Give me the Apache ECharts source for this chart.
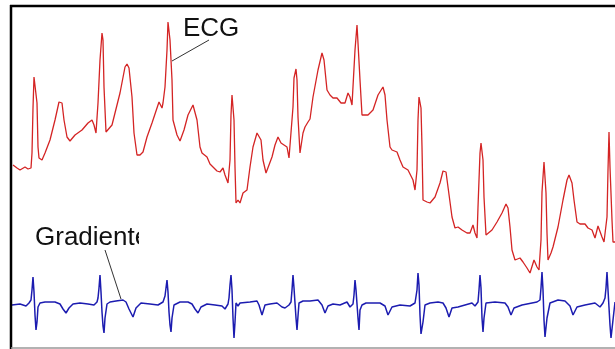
<!DOCTYPE html>
<html>
<head>
<meta charset="utf-8">
<script src="https://cdn.jsdelivr.net/npm/echarts@6/dist/echarts.min.js"></script>
<style>
  html, body { margin: 0; padding: 0; background: #fff; }
  #chart { width: 615px; height: 349px; }
</style>
</head>
<body>
<div id="chart"></div>
<script>
// ECG trace: [sample, amplitude]
const ecg = [
  [13,184],[17,181],[20,179],[25,182],[28,180],[31,181],[32,196],[33,241],[34,272],[36,272],[37,246],[38,202],
  [39,191],[42,189],[45,196],[50,209],[55,229],[59,247],[62,246],[64,229],[67,212],[70,208],[75,214],[82,219],
  [88,226],[92,229],[94,224],[96,216],[97,216],[98,246],[100,289],[102,316],[103,309],[104,262],[106,217],[108,219],
  [112,224],[115,236],[120,256],[125,282],[127,285],[129,281],[132,252],[134,216],[137,194],[140,194],[143,197],
  [147,212],[152,226],[157,241],[159,247],[162,241],[163,246],[165,262],[167,299],[168,327],[170,309],[172,269],
  [173,229],[177,214],[180,208],[184,219],[188,234],[193,244],[195,242],[197,229],[200,202],[202,196],[207,192],
  [210,185],[213,182],[217,178],[220,177],[223,181],[225,174],[228,166],[230,189],[231,234],[232,254],[233,252],
  [234,229],[235,182],[236,146],[238,149],[240,146],[243,156],[245,154],[247,159],[250,182],[253,202],[257,216],
  [258,217],[261,209],[263,189],[266,176],[268,177],[272,192],[275,204],[278,212],[281,206],[284,204],[287,202],
  [289,191],[291,191],[293,242],[294,271],[296,280],[297,269],[298,232],[300,196],[303,216],[305,222],[308,227],
  [310,230],[313,252],[318,279],[322,296],[324,289],[327,259],[330,254],[333,251],[337,251],[341,246],[345,246],
  [348,256],[350,252],[352,244],[353,244],[355,299],[357,324],[358,306],[360,269],[362,234],[364,234],[368,234],
  [373,239],[378,254],[383,262],[385,254],[387,229],[390,202],[392,199],[397,197],[400,189],[403,182],[408,179],
  [410,179],[413,169],[415,159],[417,179],[418,229],[419,252],[421,241],[422,202],[423,149],[427,147],[430,146],
  [435,152],[440,166],[443,178],[446,177],[448,162],[452,132],[455,121],[458,122],[462,119],[467,116],[470,116],
  [473,124],[475,116],[477,111],[478,142],[480,196],[481,206],[483,189],[484,152],[486,114],[488,116],[492,119],
  [497,127],[502,136],[506,145],[508,141],[510,122],[512,99],[515,89],[520,91],[523,87],[527,81],[530,76],
  [532,77],[534,89],[537,82],[539,79],[541,109],[542,157],[544,187],[546,156],[547,116],[548,89],[551,96],
  [553,102],[558,122],[563,149],[567,169],[569,174],[572,166],[574,149],[577,127],[580,125],[585,125],[588,121],
  [592,119],[595,111],[598,123],[602,112],[604,107],[607,132],[608,179],[609,217],[610,182],[612,129],[613,107],
  [615,107]
];

// gradient trace: [sample, value] around a zero baseline
const gradient = [
  [12,-2],[20,-1],[26,-3],[29,0],[31,3],[32,13],[33,26],[34,11],[35,-12],[36,-27],[37,-19],[38,-4],[40,0],
  [45,1],[55,1],[60,-1],[63,-6],[66,-10],[69,-5],[73,-1],[80,0],[88,-1],[94,-2],[97,1],
  [98,5],[99,15],[100,28],[101,11],[102,-9],[103,-23],[104,-30],[105,-15],[107,-1],[110,1],[116,2],[123,3],
  [126,1],[129,-6],[133,-14],[136,-5],[141,0],[150,-1],[158,-2],[163,1],
  [165,7],[166,15],[167,23],[168,11],[169,-9],[170,-22],[171,-29],[172,-15],[174,-2],[180,1],[188,1],[192,-1],
  [195,-6],[198,-10],[201,-4],[207,-1],[215,-2],[222,-3],[225,-6],[228,-1],
  [229,5],[230,18],[231,28],[232,13],[233,-15],[234,-35],[235,-19],[236,0],[238,-3],[240,0],[250,1],[257,2],
  [259,-2],[262,-12],[265,-2],[270,-1],[277,0],[282,-4],[285,-5],[289,-2],[291,1],
  [292,13],[293,28],[294,15],[296,-15],[297,-27],[298,-13],[299,0],[303,2],[310,2],[318,3],[322,-2],[325,-10],
  [328,-3],[333,-1],[340,-2],[347,1],[350,-4],[353,-1],
  [354,8],[355,23],[356,13],[358,-15],[359,-27],[360,-7],[362,-2],[366,0],[380,0],[385,-3],[388,-12],[392,-4],
  [400,-2],[410,-3],[415,0],
  [416,1],[417,13],[418,30],[419,18],[420,-12],[421,-31],[423,-19],[425,-2],[430,0],[438,1],[443,0],[446,-5],
  [449,-14],[452,-5],[458,-4],[465,-2],[472,0],[475,-3],[478,1],
  [479,13],[480,28],[481,15],[482,-15],[483,-29],[484,-15],[486,0],[495,1],[505,0],[508,-4],[511,-12],[514,-5],
  [522,-2],[532,0],[537,1],[540,3],
  [541,15],[542,31],[543,13],[544,-17],[545,-34],[547,-15],[550,0],[558,3],[565,2],[570,-3],[573,-12],[577,-4],
  [585,-2],[595,0],[600,-4],[603,0],[605,5],
  [606,15],[607,31],[608,13],[610,-22],[611,-35],[613,-17],[615,1]
];

const chart = echarts.init(document.getElementById('chart'));

const option = {
  animation: false,
  backgroundColor: '#fff',
  grid: {left: 0, right: 0, top: 0, bottom: 0},
  xAxis: {type: 'value', min: 0, max: 615, show: false},
  yAxis: [
    {type: 'value', min: 0, max: 349, show: false},
    {type: 'value', min: -46, max: 303, show: false}
  ],
  series: [
    {
      name: 'ECG',
      type: 'line',
      data: ecg,
      yAxisIndex: 0,
      symbol: 'none',
      lineStyle: {color: '#d42424', width: 1.3}
    },
    {
      name: 'Gradiente',
      type: 'line',
      data: gradient,
      yAxisIndex: 1,
      symbol: 'none',
      lineStyle: {color: '#1c1cb0', width: 1.5}
    }
  ],
  graphic: [
    // frame
    {type: 'line', shape: {x1: 11, y1: 5, x2: 11, y2: 349}, style: {stroke: '#000', lineWidth: 2.5}, z: 10},
    {type: 'line', shape: {x1: 10, y1: 6, x2: 615, y2: 6}, style: {stroke: '#000', lineWidth: 2.5}, z: 10},
    {type: 'line', shape: {x1: 11, y1: 348, x2: 615, y2: 348}, style: {stroke: '#999', lineWidth: 1.5}, z: 10},
    // labels
    {type: 'text', x: 183, y: 29, style: {text: 'ECG', fontSize: 26, fontFamily: 'Liberation Sans', fill: '#111', verticalAlign: 'middle'}, z: 10},
    {type: 'line', shape: {x1: 172, y1: 61, x2: 209, y2: 40}, style: {stroke: '#333', lineWidth: 1}, z: 10},
    {type: 'text', x: 35, y: 238, style: {text: 'Gradiente', fontSize: 26, fontFamily: 'Liberation Sans', fill: '#111', verticalAlign: 'middle'}, z: 10},
    {type: 'rect', shape: {x: 139, y: 222, width: 30, height: 32}, style: {fill: '#fff'}, z: 11},
    {type: 'line', shape: {x1: 105, y1: 250, x2: 121, y2: 299}, style: {stroke: '#333', lineWidth: 1}, z: 10}
  ]
};

chart.setOption(option);
</script>
</body>
</html>
